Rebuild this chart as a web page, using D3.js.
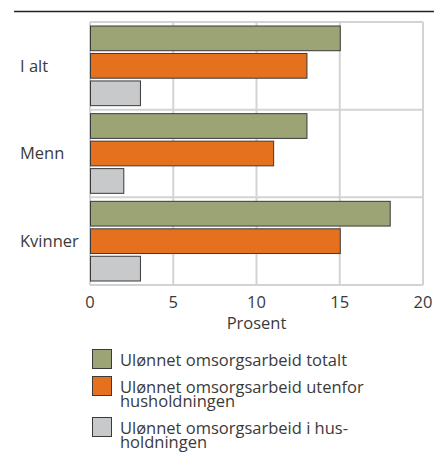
<!DOCTYPE html>
<html>
<head>
<meta charset="utf-8">
<script src="https://cdn.jsdelivr.net/npm/d3@7"></script>
<style>
  body { margin: 0; background: #fff; }
  svg text { font-family: "Open Sans", "Noto Sans", sans-serif; fill: #3a3a3a; }
</style>
</head>
<body>
<script>
var width = 434
var height = 452

// data
var groups = ["I alt", "Menn", "Kvinner"]
var legendLines = [
  ["Ulønnet omsorgsarbeid totalt"],
  ["Ulønnet omsorgsarbeid utenfor", "husholdningen"],
  ["Ulønnet omsorgsarbeid i hus-", "holdningen"]
]
var totalt = [15, 13, 18]
var utenfor = [13, 11, 15]
var iHus = [3, 2, 3]
var ticks = [0, 5, 10, 15, 20]
var colors = ["#9ca374", "#e5711e", "#c8c9cb"]

var svg = d3.select("body")
            .append("svg")
            .attr("width", width)
            .attr("height", height)

var margin = { top: 22, left: 90, right: 11 }
var plotH = 263

// heading rule (title above is cut off in the original)
svg.append("line")
  .attr("x1", 14).attr("x2", width)
  .attr("y1", 11.5).attr("y2", 11.5)
  .attr("stroke", "#222").attr("stroke-width", 1.5)

var x = d3.scaleLinear().domain([0, 20]).range([0, width - margin.left - margin.right])
var y = d3.scaleBand().domain(groups).range([0, plotH])
var inner = d3.scaleBand().domain(d3.range(3)).range([4, y.bandwidth() - 4]).paddingInner(0.1)

var g = svg.append("g")
  .attr("transform", "translate(" + margin.left + "," + margin.top + ")")

// grid
g.selectAll("line.vgrid")
  .data(ticks)
  .enter().append("line")
  .attr("x1", function(d){ return x(d) }).attr("x2", function(d){ return x(d) })
  .attr("y1", 0).attr("y2", plotH)
  .attr("stroke", "#d3d3d3").attr("stroke-width", 2)

g.selectAll("line.hgrid")
  .data([0, 1, 2, 3])
  .enter().append("line")
  .attr("x1", 0).attr("x2", x(20))
  .attr("y1", function(d){ return d * y.step() }).attr("y2", function(d){ return d * y.step() })
  .attr("stroke", "#d3d3d3").attr("stroke-width", 2)

// bars
var rows = []
groups.forEach(function(grp, i){
  rows.push({ grp: grp, s: 0, v: totalt[i] })
  rows.push({ grp: grp, s: 1, v: utenfor[i] })
  rows.push({ grp: grp, s: 2, v: iHus[i] })
})

g.selectAll("rect.bar")
  .data(rows)
  .enter().append("rect")
  .attr("x", x(0) + 0.5)
  .attr("y", function(d){ return y(d.grp) + inner(d.s) })
  .attr("width", function(d){ return x(d.v) - x(0) })
  .attr("height", inner.bandwidth())
  .attr("fill", function(d){ return colors[d.s] })
  .attr("stroke", "#3a3a3a")
  .attr("stroke-width", 1)

// category labels
svg.selectAll("text.cat")
  .data(groups)
  .enter().append("text")
  .attr("x", 20)
  .attr("y", function(d){ return margin.top + y(d) + y.bandwidth() / 2 })
  .attr("dy", "0.35em")
  .attr("font-size", 16.5)
  .text(function(d){ return d })

// x axis labels
g.selectAll("text.tick")
  .data(ticks)
  .enter().append("text")
  .attr("x", function(d){ return x(d) })
  .attr("y", plotH + 23)
  .attr("text-anchor", "middle")
  .attr("font-size", 16.5)
  .text(function(d){ return d })

g.append("text")
  .attr("x", x(10))
  .attr("y", plotH + 44)
  .attr("text-anchor", "middle")
  .attr("font-size", 16.5)
  .text("Prosent")

// legend
var legY = [349, 376, 417]
var leg = svg.selectAll("g.leg")
  .data(legendLines)
  .enter().append("g")
  .attr("transform", function(d, i){ return "translate(92," + legY[i] + ")" })

leg.append("rect")
  .attr("x", 0.5).attr("y", 0.5)
  .attr("width", 19).attr("height", 19)
  .attr("fill", function(d, i){ return colors[i] })
  .attr("stroke", "#3a3a3a")

leg.each(function(lines){
  var t = d3.select(this).append("text")
    .attr("x", 28).attr("y", 16.5)
    .attr("font-size", 16.5)
  lines.forEach(function(l, j){
    t.append("tspan").attr("x", 28).attr("dy", j == 0 ? 0 : 14).text(l)
  })
})
</script>
</body>
</html>
